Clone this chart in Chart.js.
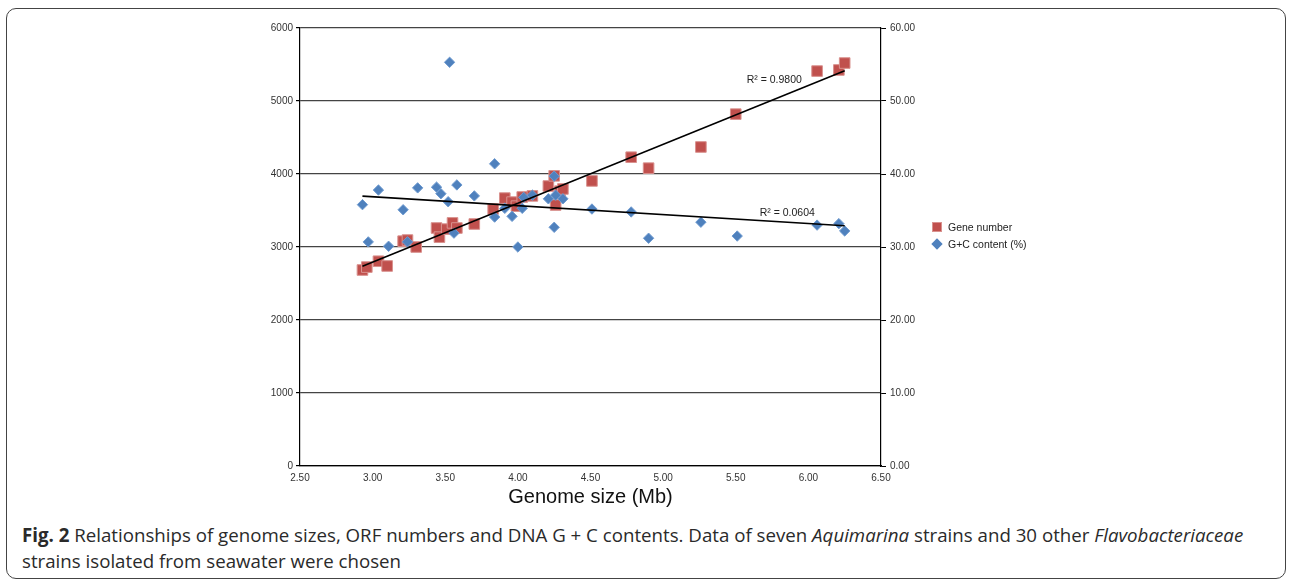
<!DOCTYPE html>
<html>
<head>
<meta charset="utf-8">
<script src="https://cdn.jsdelivr.net/npm/chart.js@4.4.0/dist/chart.umd.min.js"></script>
<style>
  body { margin: 0; background: #fff; width: 1289px; height: 583px; overflow: hidden; position: relative; }
  #frame { position: absolute; left: 6px; top: 8px; width: 1280px; height: 571px; border: 1px solid #444; border-radius: 10px; box-sizing: border-box; }
  #wrap { position: absolute; left: 0; top: 0; width: 1289px; height: 513px; }
  #legend { position: absolute; left: 931px; top: 220px; font: 10.5px "Liberation Sans", Arial, sans-serif; color: #222; }
  #legend div { height: 17px; line-height: 14px; position: relative; padding-left: 17px; }
  #legend span.m { position: absolute; left: 1px; top: 2px; width: 10px; height: 10px; }
  #caption { position: absolute; left: 22px; top: 522px; font: 18.7px "Open Sans", sans-serif; line-height: 26px; color: #2a2a2a; white-space: nowrap; }
</style>
</head>
<body>
<div id="frame"></div>
<div id="wrap"><canvas id="myChart"></canvas></div>
<div id="legend"></div>
<div id="caption"><b>Fig. 2</b> Relationships of genome sizes, ORF numbers and DNA G + C contents. Data of seven <i>Aquimarina</i> strains and 30 other <i>Flavobacteriaceae</i><br>strains isolated from seawater were chosen</div>
<script>
// genome size (Mb) vs gene number
let geneGenome = [2.93, 2.96, 3.04, 3.10, 3.21, 3.24, 3.30, 3.44, 3.46, 3.51, 3.55, 3.58, 3.70, 3.83, 3.91, 3.96,
    3.99, 4.03, 4.10, 4.21, 4.25, 4.26, 4.29, 4.31, 4.51, 4.78, 4.90, 5.26, 5.50, 6.06, 6.21, 6.25];
let geneNumber = [2685, 2725, 2805, 2740, 3080, 3095, 3000, 3260, 3135, 3245, 3330, 3260, 3315, 3520, 3670, 3615,
    3560, 3685, 3700, 3835, 3975, 3575, 3765, 3795, 3905, 4230, 4080, 4370, 4820, 5410, 5425, 5520];

// genome size (Mb) vs G+C content (%)
let gcGenome = [3.53, 2.93, 3.04, 2.97, 3.11, 3.21, 3.24, 3.31, 3.44, 3.47, 3.52, 3.56, 3.58, 3.70, 3.84, 3.84,
    3.91, 3.96, 4.00, 4.03, 4.04, 4.10, 4.21, 4.25, 4.26, 4.25, 4.31, 4.51, 4.78, 4.90, 5.26, 5.51, 6.06, 6.21, 6.25];
let gcContent = [55.3, 35.8, 37.8, 30.7, 30.1, 35.1, 30.7, 38.1, 38.2, 37.3, 36.2, 31.9, 38.5, 37.0, 41.4, 34.1,
    35.3, 34.2, 30.0, 35.3, 36.8, 37.1, 36.6, 39.7, 37.1, 32.7, 36.6, 35.2, 34.8, 31.2, 33.4, 31.5, 33.0, 33.2, 32.2];

let seriesNames = ['Gene number', 'G+C content (%)'];
let r2Labels = ['R\u00b2 = 0.9800', 'R\u00b2 = 0.0604'];

function toPoints(xs, ys) {
    return xs.map((x, i) => ({ x: x, y: ys[i] }));
}

function trend(xs, ys) {
    let n = xs.length;
    let mx = xs.reduce((a, b) => a + b, 0) / n;
    let my = ys.reduce((a, b) => a + b, 0) / n;
    let sxy = 0, sxx = 0;
    xs.forEach((x, i) => { sxy += (x - mx) * (ys[i] - my); sxx += (x - mx) * (x - mx); });
    let b = sxy / sxx;
    let a = my - b * mx;
    let x0 = Math.min(...xs), x1 = Math.max(...xs);
    return [{ x: x0, y: a + b * x0 }, { x: x1, y: a + b * x1 }];
}

const red = '#C0504D';
const blue = '#4F81BD';
const tickFont = { family: '"Liberation Sans", Arial, sans-serif', size: 10 };

// R² text next to the trend lines
const r2Plugin = {
    id: 'r2',
    afterDatasetsDraw(chart) {
        let ctx = chart.ctx;
        let x = chart.scales.x, y = chart.scales.y, y2 = chart.scales.y2;
        ctx.save();
        ctx.font = '10.5px "Liberation Sans", Arial, sans-serif';
        ctx.fillStyle = '#222';
        ctx.textBaseline = 'middle';
        ctx.fillText(r2Labels[0], x.getPixelForValue(5.575), y.getPixelForValue(5285));
        ctx.fillText(r2Labels[1], x.getPixelForValue(5.665), y2.getPixelForValue(34.7));
        ctx.restore();
    }
};

function renderChart() {
    let ctx = document.getElementById('myChart').getContext('2d');
    new Chart(ctx, {
        type: 'scatter',
        data: {
            datasets: [
                {
                    label: seriesNames[0],
                    data: toPoints(geneGenome, geneNumber),
                    yAxisID: 'y',
                    pointStyle: 'rect',
                    pointRadius: 7.5,
                    backgroundColor: red,
                    borderColor: '#d9928f',
                    borderWidth: 1,
                    order: 3
                },
                {
                    label: seriesNames[1],
                    data: toPoints(gcGenome, gcContent),
                    yAxisID: 'y2',
                    pointStyle: 'rectRot',
                    pointRadius: 5.2,
                    backgroundColor: blue,
                    borderColor: '#6f9bd0',
                    borderWidth: 1,
                    order: 2
                },
                {
                    type: 'line',
                    data: trend(geneGenome, geneNumber),
                    yAxisID: 'y',
                    borderColor: '#000',
                    borderWidth: 1.6,
                    pointRadius: 0,
                    order: 0
                },
                {
                    type: 'line',
                    data: trend(gcGenome, gcContent),
                    yAxisID: 'y2',
                    borderColor: '#000',
                    borderWidth: 1.6,
                    pointRadius: 0,
                    order: 1
                }
            ]
        },
        options: {
            responsive: true,
            maintainAspectRatio: false,
            animation: false,
            layout: { padding: { left: 0, right: 348, top: 28, bottom: 0 } },
            plugins: { legend: { display: false }, tooltip: { enabled: false } },
            scales: {
                x: {
                    type: 'linear',
                    min: 2.5, max: 6.5,
                    afterFit: s => { s.height = 47; },
                    ticks: { stepSize: 0.5, color: '#333', font: tickFont, padding: 2, callback: v => v.toFixed(2) },
                    grid: { display: false, drawOnChartArea: false, tickLength: 4, color: '#000' },
                    border: { color: '#000', width: 1.2 },
                    title: { display: true, text: 'Genome size (Mb)', color: '#111', font: { family: '"Liberation Sans", Arial, sans-serif', size: 20 }, padding: { top: 4, bottom: 4 } }
                },
                y: {
                    position: 'left',
                    min: 0, max: 6000,
                    afterFit: s => { s.width = 300; },
                    ticks: { stepSize: 1000, color: '#333', font: tickFont, padding: 3, callback: v => String(v) },
                    grid: { color: '#444', lineWidth: 1.2, tickLength: 4, tickColor: '#000' },
                    border: { color: '#000', width: 1.2 }
                },
                y2: {
                    position: 'right',
                    min: 0, max: 60,
                    afterFit: s => { s.width = 60; },
                    ticks: { stepSize: 10, color: '#333', font: tickFont, padding: 4, callback: v => v.toFixed(2) },
                    grid: { drawOnChartArea: false, tickLength: 5, color: '#000' },
                    border: { color: '#000', width: 1.2 }
                }
            }
        },
        plugins: [r2Plugin]
    });
}

function renderLegend() {
    let legend = document.getElementById('legend');
    let marks = [
        `<span class="m" style="background:${red};border:1px solid #d9928f;box-sizing:border-box"></span>`,
        `<span class="m" style="background:${blue};transform:rotate(45deg) scale(0.8)"></span>`
    ];
    seriesNames.forEach((name, i) => {
        legend.innerHTML += `<div>${marks[i]}${name}</div>`;
    });
}

renderChart();
renderLegend();
</script>
</body>
</html>
